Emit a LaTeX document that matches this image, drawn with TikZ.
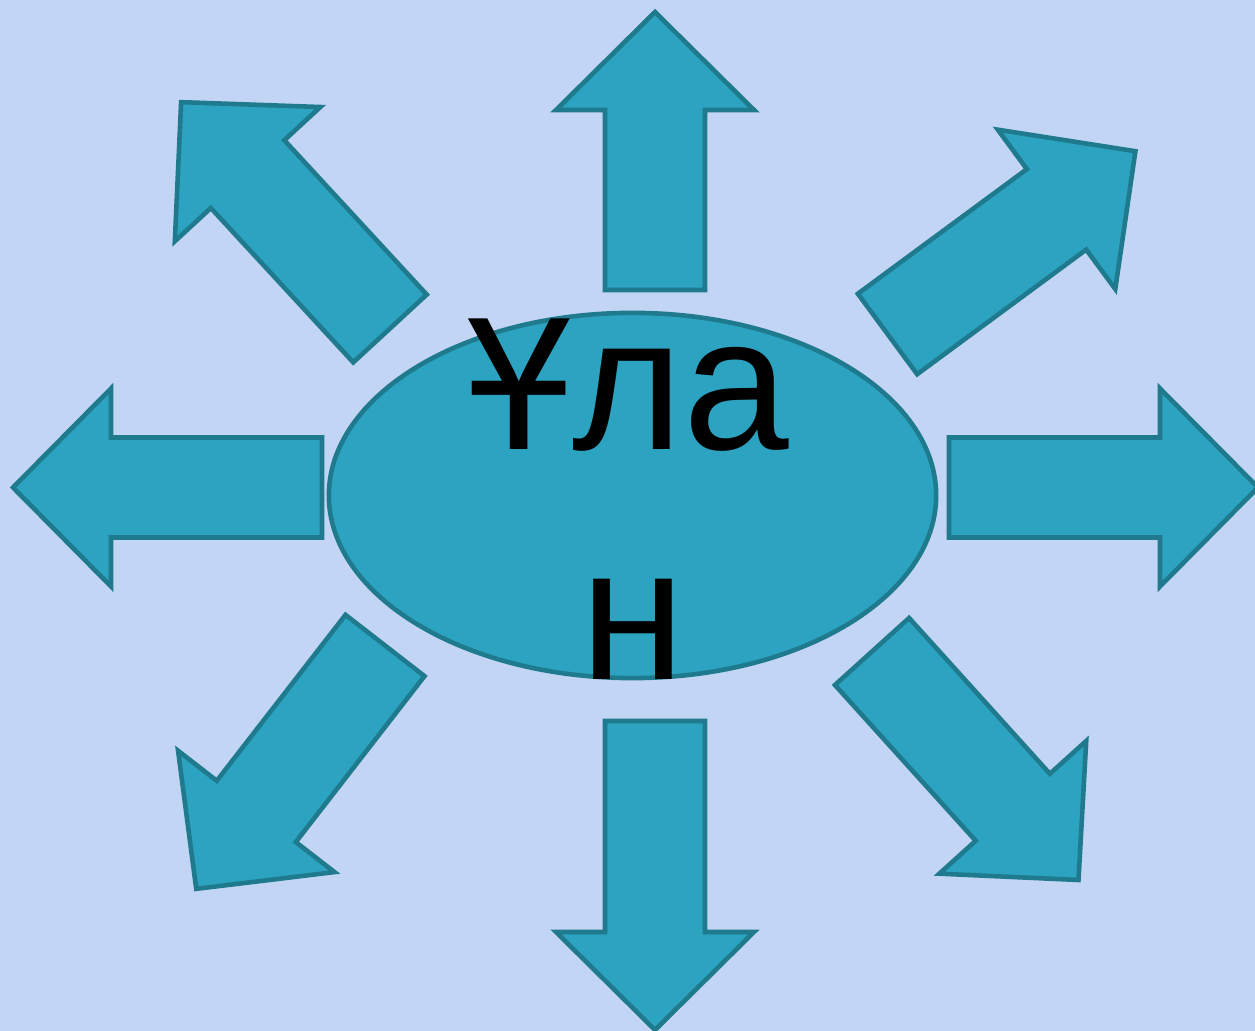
\documentclass[tikz,border=0pt]{standalone}
\usepackage{fontspec}
\setmainfont{Liberation Sans}
\usetikzlibrary{positioning,shapes.geometric}
\definecolor{bgblue}{HTML}{C3D5F5}
\definecolor{tealfill}{HTML}{2CA3C0}
\definecolor{tealline}{HTML}{1E7A8C}

\begin{document}
\begin{tikzpicture}[
  x=0.01cm, y=0.01cm,
  blk/.style={fill=tealfill, draw=tealline, line width=1.3pt, line join=miter},
  lab/.style={font=\fontsize{54}{65}\selectfont, inner sep=0pt, anchor=base}
]
\fill[bgblue] (0,0) rectangle (1255,1031);
\useasboundingbox (0,0) rectangle (1255,1031);

% --- block arrows: base x / base y / angle / shaft length ---
\foreach \bx/\by/\ang/\len in {
  655/741/90/180, 949/543.5/0/211, 322/543.5/180/211, 655/310/270/211,
  390/702.5/132.7/210, 887.5/697/36.4/210, 385/385.5/232.2/210, 872/379.5/-47.9/210}{
  \begin{scope}[shift={(\bx,\by)}, rotate=\ang]
  \draw[blk] (0,-50) -- (\len,-50) -- (\len,-99) -- ({\len+98},0)
    -- (\len,99) -- (\len,50) -- (0,50) -- cycle;
  \end{scope}
}

% --- centre ---
\node[blk, ellipse, minimum width=6.07cm, minimum height=3.65cm, inner sep=0pt]
  (oval) at (632.5,535.5) {};
\node[lab] (lineA) at (628,581) {Ұла};
\node[lab] (lineB) at (633,351) {н};

\end{tikzpicture}
\end{document}
